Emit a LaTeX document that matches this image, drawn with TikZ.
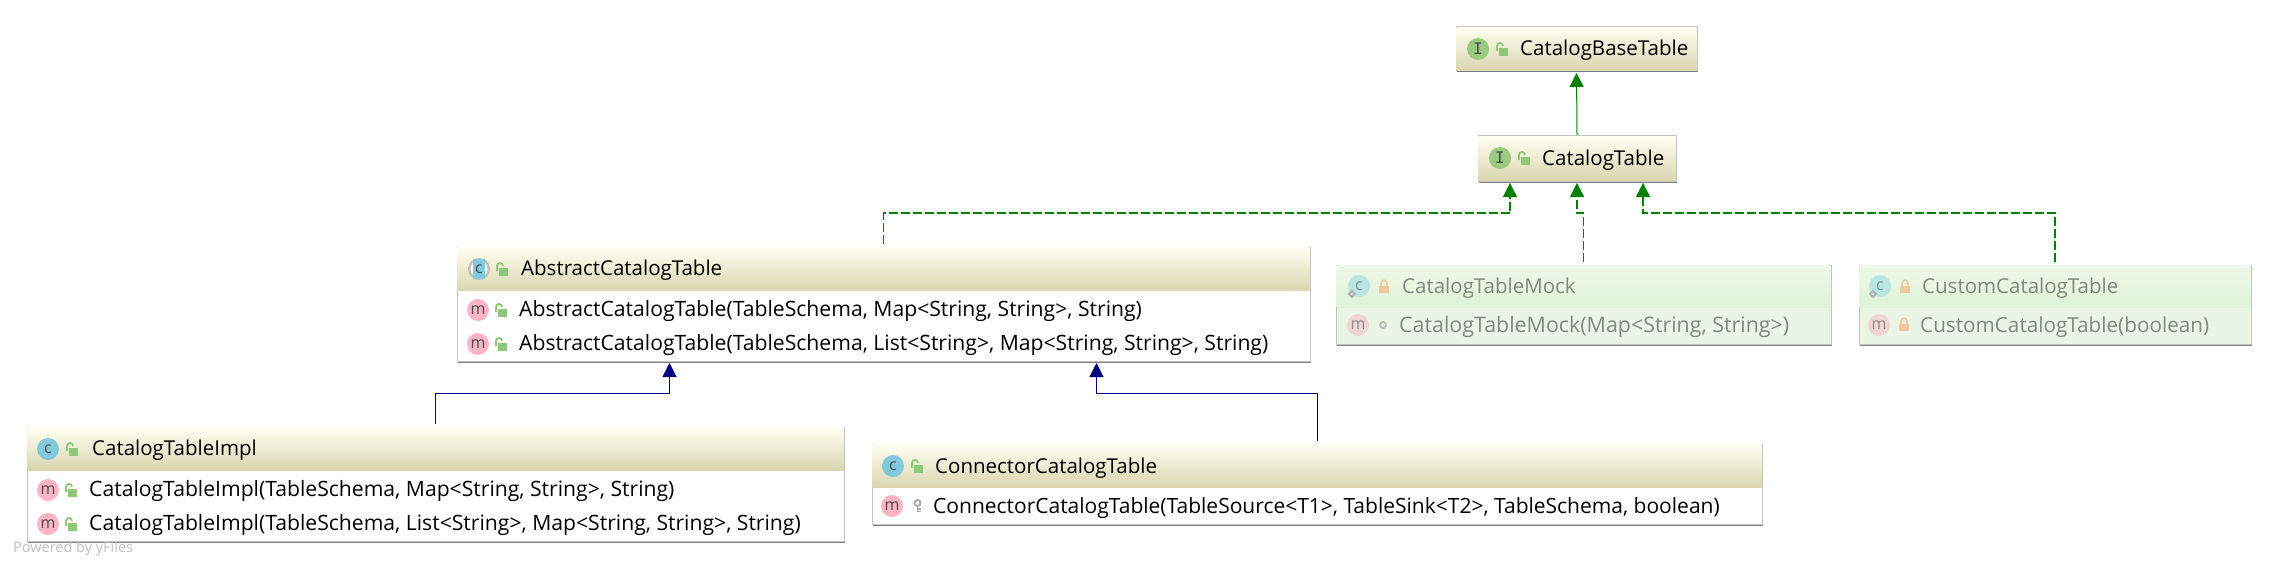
\documentclass[tikz,border=0pt]{standalone}
\usepackage{fontspec}
\setmainfont{Open Sans}
\newfontfamily\slabfont{DejaVu Sans Mono}
\usetikzlibrary{arrows.meta,shadows}

\definecolor{headtop}{HTML}{FFFFF2}
\definecolor{headbot}{HTML}{D9D6AF}
\definecolor{greentop}{HTML}{EFF8EA}
\definecolor{greenbot}{HTML}{DDF3D6}
\definecolor{rowgreen}{HTML}{EBF5E6}
\definecolor{boxedge}{HTML}{C4C4C4}
\definecolor{implgreen}{HTML}{008000}
\definecolor{extblue}{HTML}{000080}
\definecolor{badgei}{HTML}{9BC97F}
\definecolor{badgec}{HTML}{82CADB}
\definecolor{badgem}{HTML}{FBB5C5}
\definecolor{mockc}{HTML}{B8E6E2}
\definecolor{mockm}{HTML}{EFD6D3}
\definecolor{locktan}{HTML}{F0C8A0}
\definecolor{lockgreen}{HTML}{8CC878}
\definecolor{mocktext}{HTML}{7F8A7F}

\tikzset{
  frame/.style={draw=boxedge,line width=1pt,anchor=north west,inner sep=0pt,outer sep=0pt,fill=white,
    drop shadow={shadow xshift=1pt,shadow yshift=-1.5pt,fill=black!50,opacity=1}},
  mockframe/.style={frame,fill=rowgreen},
  head/.style={anchor=north west,inner sep=0pt,outer sep=0pt,top color=headtop,bottom color=headbot},
  mockhead/.style={anchor=north west,inner sep=0pt,outer sep=0pt,top color=greentop,bottom color=greenbot},
  label/.style={anchor=west,inner sep=0pt,yshift=-1pt,font=\fontsize{20.5}{24}\selectfont,text=black},
  rowlabel/.style={label,font=\fontsize{21.15}{25}\selectfont},
  mocklabel/.style={label,text=mocktext},
  mockrowlabel/.style={label,font=\fontsize{21}{25}\selectfont,text=mocktext},
  badge/.style={circle,minimum size=22pt,inner sep=0pt,font=\fontsize{16}{18}\selectfont,text=black!70},
  realize/.style={draw=implgreen,line width=1.2pt,dash pattern=on 9pt off 3pt,-{Triangle[length=14pt,width=14pt]},shorten >=2pt,shorten <=3pt},
  inherit/.style={draw=implgreen,line width=1pt,-{Triangle[length=14pt,width=14pt]},shorten >=2pt,shorten <=1pt},
  extend/.style={draw=extblue,line width=1pt,-{Triangle[length=14pt,width=14pt]},shorten >=2pt,shorten <=3pt},
  openlock/.pic={
    \fill[lockgreen] (-2,-1) rectangle (7,7);
    \draw[lockgreen,line width=1.8pt] (-4,2) -- (-4,-3) .. controls (-4,-7) and (2,-7) .. (2,-3);
  },
  shutlock/.pic={
    \fill[locktan] (-5,-1) rectangle (5,6);
    \draw[locktan,line width=1.6pt] (-3,-1) -- (-3,-3) .. controls (-3,-8) and (3,-8) .. (3,-3) -- (3,-1);
  },
  keyicon/.pic={
    \draw[black!35,line width=1.8pt] (0,-3) circle[radius=3pt];
    \draw[black!35,line width=1.8pt] (0,0) -- (0,6) (0,3) -- (3,3) (0,5.5) -- (3,5.5);
  },
  diamondmark/.pic={
    \draw[black!30,line width=1.8pt] (-3,0) -- (0,-3) -- (3,0) -- (0,3) -- cycle;
  },
}

\begin{document}
\begin{tikzpicture}[x=1pt,y=-1pt]
\useasboundingbox (0,0) rectangle (2277,567);

% top interfaces
\node[frame,minimum width=241pt,minimum height=44pt] (base) at (1456,27) {};
\node[head,minimum width=240pt,minimum height=43pt] (basehead) at (1456.5,27.5) {};
\node[frame,minimum width=198pt,minimum height=45pt] (catalog) at (1478,136) {};
\node[head,minimum width=197pt,minimum height=44pt] (cataloghead) at (1478.5,136.5) {};
\node[badge,fill=badgei,font=\fontsize{16}{18}\slabfont] (baseicon) at (1478,49) {I};
\node[badge,fill=badgei,font=\fontsize{16}{18}\slabfont] (catalogicon) at (1500,158) {I};
\pic at (1501,49) {openlock};
\pic at (1523,158) {openlock};
\node[label] (basename) at (1520,49) {CatalogBaseTable};
\node[label] (catalogname) at (1542,159) {CatalogTable};

% abstract class
\node[frame,minimum width=853pt,minimum height=114pt] (abstract) at (457,247) {};
\node[head,minimum width=852pt,minimum height=43pt] (abstracthead) at (457.5,247.5) {};
\node[label] (abstractname) at (521,269) {AbstractCatalogTable};
\node[rowlabel] (abstractone) at (519,310) {AbstractCatalogTable(TableSchema, Map<String, String>, String)};
\node[rowlabel] (abstracttwo) at (519,344) {AbstractCatalogTable(TableSchema, List<String>, Map<String, String>, String)};
\node[badge,fill=black!25] (abstractring) at (479,269) {};
\node[badge,fill=headtop,minimum size=17pt] (abstractinner) at (479,269) {};
\node[fill=badgec,minimum width=12pt,minimum height=20pt,inner sep=0pt,font=\fontsize{16}{18}\selectfont,text=black!70] (abstracticon) at (479,269) {c};
\node[badge,fill=badgem] (abstractm) at (478,310) {m};
\node[badge,fill=badgem] (abstractn) at (478,344) {m};
\pic at (501,269) {openlock};
\pic at (500,310) {openlock};
\pic at (500,344) {openlock};

% mock classes
\node[mockframe,minimum width=495pt,minimum height=79pt] (mock) at (1336,265) {};
\node[mockhead,minimum width=494pt,minimum height=42pt] (mockhead) at (1336.5,265.5) {};
\node[mocklabel] (mockname) at (1402,287) {CatalogTableMock};
\node[mockrowlabel,font=\fontsize{21.4}{25}\selectfont] (mockrow) at (1399,326) {CatalogTableMock(Map<String, String>)};
\node[badge,fill=mockc,text=black!45] (mockicon) at (1359,286) {c};
\pic at (1352,294) {diamondmark};
\node[badge,fill=mockm,text=black!45] (mockm) at (1358,325) {m};
\pic at (1384,287) {shutlock};
\node[circle,draw=black!25,line width=2pt,minimum size=6pt,inner sep=0pt] (mockdot) at (1383,325) {};

\node[mockframe,minimum width=392pt,minimum height=79pt] (custom) at (1859,265) {};
\node[mockhead,minimum width=391pt,minimum height=42pt] (customhead) at (1859.5,265.5) {};
\node[mocklabel] (customname) at (1922,287) {CustomCatalogTable};
\node[mockrowlabel,font=\fontsize{20.7}{25}\selectfont] (customrow) at (1920,326) {CustomCatalogTable(boolean)};
\node[badge,fill=mockc,text=black!45] (customicon) at (1880,286) {c};
\pic at (1873,294) {diamondmark};
\node[badge,fill=mockm,text=black!45] (customm) at (1879,325) {m};
\pic at (1905,287) {shutlock};
\pic at (1904,325) {shutlock};

% bottom classes
\node[frame,minimum width=817pt,minimum height=114pt] (impl) at (27,427) {};
\node[head,minimum width=816pt,minimum height=43pt] (implhead) at (27.5,427.5) {};
\node[label] (implname) at (92,449) {CatalogTableImpl};
\node[rowlabel] (implone) at (89,490) {CatalogTableImpl(TableSchema, Map<String, String>, String)};
\node[rowlabel] (impltwo) at (89,524) {CatalogTableImpl(TableSchema, List<String>, Map<String, String>, String)};
\node[badge,fill=badgec] (implicon) at (48,449) {c};
\node[badge,fill=badgem] (implm) at (48,490) {m};
\node[badge,fill=badgem] (impln) at (48,524) {m};
\pic at (71,449) {openlock};
\pic at (70,490) {openlock};
\pic at (70,524) {openlock};

\node[frame,minimum width=890pt,minimum height=80pt] (connector) at (872,444) {};
\node[head,minimum width=889pt,minimum height=43pt] (connectorhead) at (872.5,444.5) {};
\node[label] (connectorname) at (935,467) {ConnectorCatalogTable};
\node[label,font=\fontsize{21}{25}\selectfont] (connectorrow) at (933,507) {ConnectorCatalogTable(TableSource<T1>, TableSink<T2>, TableSchema, boolean)};
\node[badge,fill=badgec] (connectoricon) at (893,466) {c};
\node[badge,fill=badgem] (connectorm) at (892,506) {m};
\pic at (916,466) {openlock};
\pic at (917.5,506) {keyicon};

\node[anchor=west,inner sep=0pt,font=\fontsize{14.5}{18}\selectfont,text=black!25] (powered) at (13,549) {Powered by yFiles};

% connectors
\coordinate (greenbus) at (0,213);
\coordinate (bluebus) at (0,393);
\draw[inherit] (catalog.north) -- (base.south);
\draw[realize] (abstract.north) -- (abstract.north |- greenbus) -| ([xshift=-67pt]catalog.south);
\draw[realize] (mock.north) -- (mock.north |- greenbus) -| (catalog.south);
\draw[realize] (custom.north) -- (custom.north |- greenbus) -| ([xshift=66pt]catalog.south);
\draw[extend] (impl.north) -- (impl.north |- bluebus) -| ([xshift=-214pt]abstract.south);
\draw[extend] (connector.north) -- (connector.north |- bluebus) -| ([xshift=213pt]abstract.south);
\end{tikzpicture}
\end{document}
